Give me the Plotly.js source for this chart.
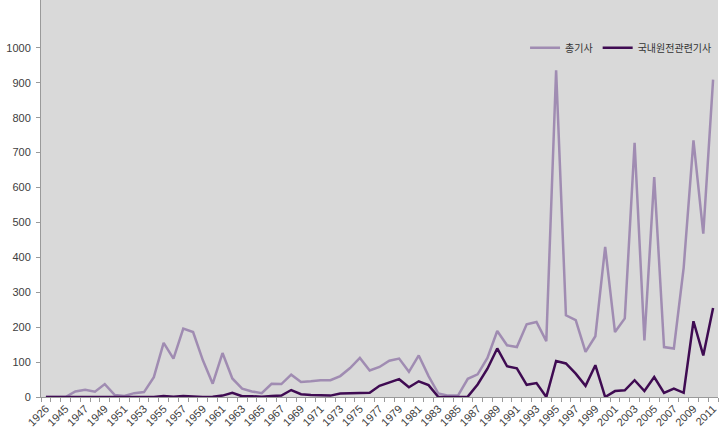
<!DOCTYPE html>
<html>
<head>
<meta charset="utf-8">
<script src="https://cdn.plot.ly/plotly-3.0.1.min.js"></script>
<style>
  html, body { margin: 0; padding: 0; background: #ffffff; }
  #chart { width: 728px; height: 437px; }
</style>
</head>
<body>
<div id="chart"></div>
<script>
// Categories (years)
const years = ["1926", "1944",
  "1945","1946","1947","1948","1949","1950","1951","1952","1953","1954",
  "1955","1956","1957","1958","1959","1960","1961","1962","1963","1964",
  "1965","1966","1967","1968","1969","1970","1971","1972","1973","1974",
  "1975","1976","1977","1978","1979","1980","1981","1982","1983","1984",
  "1985","1986","1987","1988","1989","1990","1991","1992","1993","1994",
  "1995","1996","1997","1998","1999","2000","2001","2002","2003","2004",
  "2005","2006","2007","2008","2009","2010","2011"];

// 총기사 (total articles)
const totalArticles = [0, 0,
  0, 16, 21, 15, 37, 6, 3, 11, 14, 57,
  155, 110, 196, 186, 105, 38, 126, 53, 24, 16,
  11, 38, 37, 64, 43, 45, 48, 48, 60, 83,
  112, 76, 86, 104, 110, 72, 119, 60, 10, 4,
  4, 52, 65, 112, 189, 148, 143, 208, 215, 160,
  936, 234, 220, 129, 174, 430, 186, 225, 728, 162,
  630, 143, 139, 370, 735, 468, 909];

// 국내원전관련기사 (domestic nuclear plant articles)
const nuclearArticles = [0, 0,
  0, 0, 0, 0, 0, 0, 0, 0, 0, 0,
  3, 1, 3, 1, 0, 1, 4, 12, 2, 2,
  1, 3, 4, 20, 8, 6, 5, 4, 10, 11,
  12, 12, 32, 42, 51, 28, 45, 34, 0, 0,
  0, 1, 36, 81, 139, 88, 82, 35, 40, 0,
  103, 96, 67, 32, 91, 0, 17, 19, 48, 17,
  57, 12, 24, 12, 217, 119, 255];

const yTicks = [0, 100, 200, 300, 400, 500, 600, 700, 800, 900, 1000];

// every other category gets a label
const tickText = years.map((y, i) => (i % 2 === 0 ? y : ""));

const traces = [
  {
    type: "scatter", mode: "lines", name: "총기사",
    x: years, y: totalArticles,
    line: { color: "#a08cb2", width: 2.5 }
  },
  {
    type: "scatter", mode: "lines", name: "국내원전관련기사",
    x: years, y: nuclearArticles,
    line: { color: "#3f0b52", width: 2.5 }
  }
];

const layout = {
  width: 728, height: 437,
  margin: { l: 41, r: 10, t: 0, b: 40, pad: 0 },
  paper_bgcolor: "#ffffff",
  plot_bgcolor: "#d9d9d9",
  font: { family: "Liberation Sans, Arial, sans-serif", size: 11, color: "#404040" },
  showlegend: true,
  legend: {
    orientation: "h",
    x: 0.715, xanchor: "left",
    y: 0.88, yanchor: "middle",
    bgcolor: "rgba(0,0,0,0)",
    font: { family: "Noto Sans CJK KR, sans-serif", size: 10, color: "#333333" },
    itemwidth: 30,
    tracegroupgap: 0
  },
  xaxis: {
    type: "category",
    tickmode: "array",
    tickvals: years,
    ticktext: tickText,
    tickangle: -45,
    tickson: "boundaries",
    ticks: "outside", ticklen: 4, tickcolor: "#9a9a9a",
    showline: true, linecolor: "#9a9a9a", linewidth: 1,
    showgrid: false, zeroline: false,
    tickfont: { size: 11, color: "#404040" },
    range: [-0.5, years.length - 0.5]
  },
  yaxis: {
    range: [0, 1137],
    tickmode: "array",
    tickvals: yTicks,
    ticktext: yTicks.map(String),
    ticks: "outside", ticklen: 4, tickcolor: "#9a9a9a",
    ticklabelstandoff: 3,
    showline: true, linecolor: "#9a9a9a", linewidth: 1,
    showgrid: false, zeroline: false,
    tickfont: { size: 11, color: "#404040" },
    fixedrange: true
  }
};

Plotly.newPlot("chart", traces, layout, { displayModeBar: false, staticPlot: true });
</script>
</body>
</html>
